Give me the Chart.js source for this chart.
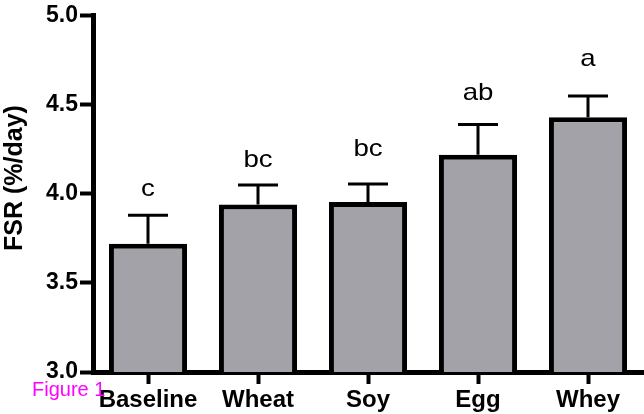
<!DOCTYPE html>
<html lang="en">
<head>
    <meta charset="UTF-8">
    <title>FSR (%/day)</title>
    <script src="https://cdn.jsdelivr.net/npm/chart.js"></script>
    <style>
        body { margin: 0; background: #fff; }
        .wrap { width: 644px; height: 414px; position: relative; }
    </style>
</head>
<body>
    <div class="wrap">
        <canvas id="fsrChart"></canvas>
    </div>

    <script>
        // data
        const groups = ['Baseline', 'Wheat', 'Soy', 'Egg', 'Whey'];
        const fsrMean = [3.72, 3.94, 3.955, 4.22, 4.43];
        const fsrUpper = [3.88, 4.05, 4.055, 4.39, 4.55];   // mean + SEM
        const sigLetters = ['c', 'bc', 'bc', 'ab', 'a'];
        const letterLevel = [3.99, 4.15, 4.21, 4.53, 4.72];  // baseline of the letters
        const yTicks = [3.0, 3.5, 4.0, 4.5, 5.0];

        const FONT = '"Liberation Sans", Arial, Helvetica, sans-serif';

        // error bars (upper only) + significance letters + title + caption
        const extras = {
            id: 'extras',
            afterDatasetsDraw(chart) {
                const ctx = chart.ctx;
                const y = chart.scales.y;
                const bars = chart.getDatasetMeta(0).data;
                ctx.save();
                ctx.strokeStyle = '#000';
                ctx.lineWidth = 3;
                bars.forEach((bar, i) => {
                    const top = y.getPixelForValue(fsrMean[i]);
                    const hi = y.getPixelForValue(fsrUpper[i]);
                    ctx.beginPath();
                    ctx.moveTo(bar.x, top);
                    ctx.lineTo(bar.x, hi);
                    ctx.moveTo(bar.x - 20, hi);
                    ctx.lineTo(bar.x + 20, hi);
                    ctx.stroke();

                    // letters look a bit wide in the original
                    ctx.save();
                    ctx.translate(bar.x, y.getPixelForValue(letterLevel[i]));
                    ctx.scale(1.15, 1);
                    ctx.fillStyle = '#000';
                    ctx.font = '24px ' + FONT;
                    ctx.textAlign = 'center';
                    ctx.textBaseline = 'alphabetic';
                    ctx.fillText(sigLetters[i], 0, 0);
                    ctx.restore();
                });
                ctx.restore();
            },
            afterDraw(chart) {
                const ctx = chart.ctx;
                ctx.save();
                // y axis title
                ctx.translate(15, 178);
                ctx.rotate(-Math.PI / 2);
                ctx.fillStyle = '#000';
                ctx.font = 'bold 25px ' + FONT;
                ctx.textAlign = 'center';
                ctx.textBaseline = 'middle';
                ctx.fillText('FSR (%/day)', 0, 0);
                ctx.restore();

                // caption stamp
                ctx.save();
                ctx.fillStyle = '#ff00ff';
                ctx.font = '20px ' + FONT;
                ctx.textAlign = 'left';
                ctx.textBaseline = 'alphabetic';
                ctx.fillText('Figure 1', 32, 396);
                ctx.restore();
            }
        };

        const ctx = document.getElementById('fsrChart').getContext('2d');
        const fsrChart = new Chart(ctx, {
            type: 'bar',
            data: {
                labels: groups,
                datasets: [{
                    data: fsrMean,
                    backgroundColor: '#a2a2a8',
                    borderColor: '#000',
                    borderWidth: 5,
                    borderSkipped: 'bottom',
                    barPercentage: 0.71,
                    categoryPercentage: 1.0
                }]
            },
            options: {
                responsive: true,
                maintainAspectRatio: false,
                animation: false,
                layout: { padding: { top: 12, right: 1, left: 0, bottom: 0 } },
                plugins: {
                    legend: { display: false },
                    tooltip: { enabled: false }
                },
                scales: {
                    x: {
                        offset: true,
                        grid: {
                            offset: false,
                            drawOnChartArea: false,
                            tickLength: 12,
                            tickWidth: 4,
                            tickColor: '#000'
                        },
                        border: { color: '#000', width: 5 },
                        ticks: {
                            color: '#000',
                            padding: 2,
                            font: { family: FONT, size: 24, weight: 'bold' }
                        },
                        afterFit(scale) { scale.height = 42; }
                    },
                    y: {
                        min: 3.0,
                        max: 5.0,
                        afterBuildTicks(scale) {
                            scale.ticks = yTicks.map(v => ({ value: v }));
                        },
                        grid: {
                            drawOnChartArea: false,
                            tickLength: 13,
                            tickWidth: 4,
                            tickColor: '#000'
                        },
                        border: { color: '#000', width: 5 },
                        ticks: {
                            color: '#000',
                            padding: 2,
                            font: { family: FONT, size: 23, weight: 'bold' },
                            callback: v => Number(v).toFixed(1)
                        },
                        afterFit(scale) { scale.width = 93; }
                    }
                }
            },
            plugins: [extras]
        });
    </script>
</body>
</html>
